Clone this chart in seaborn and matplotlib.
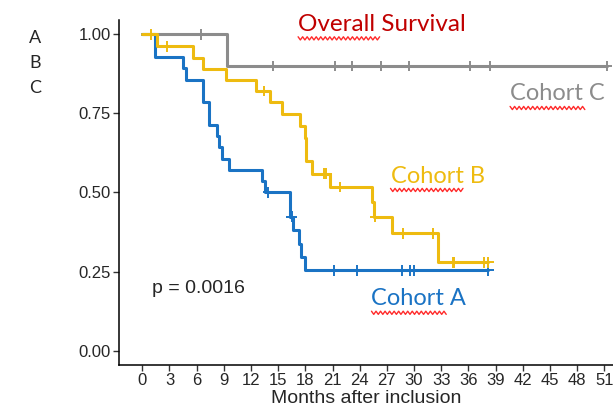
import numpy as np
import pandas as pd
import matplotlib
matplotlib.use("Agg")
import matplotlib.pyplot as plt
import seaborn as sns

# Kaplan-Meier steps: month of each step and survival after it
months_a = [0, 1.4, 4.5, 4.8, 6.7, 7.4, 8.3, 8.5, 8.8, 9.6, 13.2, 13.5, 16.3, 16.6, 17.3, 17.5, 18.0]
surv_a = [1.0, 0.929, 0.893, 0.857, 0.786, 0.714, 0.679, 0.643, 0.607, 0.571, 0.536, 0.500,
          0.423, 0.381, 0.338, 0.296, 0.254]
censor_a = [13.9, 16.5, 21.2, 23.7, 28.7, 29.5, 30.0, 38.2]

months_b = [0, 1.6, 5.6, 6.7, 9.2, 12.6, 14.1, 15.4, 17.4, 18.0, 18.05, 18.1, 18.7, 20.7,
            25.4, 25.6, 27.6, 32.6]
surv_b = [1.0, 0.962, 0.925, 0.889, 0.855, 0.821, 0.786, 0.748, 0.710, 0.673, 0.635, 0.598,
          0.560, 0.517, 0.470, 0.423, 0.371, 0.280]
censor_b = [1.0, 2.7, 13.4, 20.1, 20.3, 21.8, 25.7, 28.8, 32.1, 34.3, 34.45, 37.7, 38.2]

months_c = [0, 9.4]
surv_c = [1.0, 0.9]
censor_c = [6.5, 14.4, 21.3, 23.2, 26.3, 29.4, 36.2, 38.4, 51.3]

cohorts = ["Cohort A", "Cohort B", "Cohort C"]
colors = {"Cohort A": "#1a73c4", "Cohort B": "#eebb10", "Cohort C": "#8c8c8c"}
p_text = "p = 0.0016"

curves = {"Cohort A": (months_a, surv_a, censor_a),
          "Cohort B": (months_b, surv_b, censor_b),
          "Cohort C": (months_c, surv_c, censor_c)}

line_rows = []
cens_rows = []
for name, (m, s, c) in curves.items():
    for t, v in zip(m, s):
        line_rows.append((name, t, v))
    line_rows.append((name, max(c), s[-1]))  # follow-up ends at last censoring
    for t in c:
        idx = np.searchsorted(m, t, side="right") - 1
        cens_rows.append((name, t, s[idx]))
lines = pd.DataFrame(line_rows, columns=["cohort", "month", "surv"])
cens = pd.DataFrame(cens_rows, columns=["cohort", "month", "surv"])

sns.set_style("ticks")
plt.rcParams["font.family"] = ["Liberation Sans", "DejaVu Sans"]

fig = plt.figure(figsize=(6.13, 4.11), dpi=100)
ax = fig.add_axes([119 / 613, 46 / 411, 494 / 613, 345 / 411])

order = ["Cohort C", "Cohort A", "Cohort B"]
sns.lineplot(data=lines, x="month", y="surv", hue="cohort", hue_order=order, palette=colors,
             estimator=None, drawstyle="steps-post", linewidth=2.2, legend=False, ax=ax)
sns.scatterplot(data=cens, x="month", y="surv", hue="cohort", hue_order=order, palette=colors,
                marker="+", s=60, linewidth=1.4, legend=False, ax=ax, zorder=3)

ax.set_xlim(-2.57, 51.96)
ax.set_ylim(-0.045, 1.045)
ax.set_xticks(np.arange(0, 52, 3))
ax.set_yticks([0, 0.25, 0.5, 0.75, 1.0])
ax.set_yticklabels(["0.00", "0.25", "0.50", "0.75", "1.00"])
ax.tick_params(labelsize=12, length=4, width=1, color="#333333", pad=2)
ax.set_xlabel("Months after inclusion", fontsize=14, labelpad=1)
ax.set_ylabel("")
sns.despine(ax=ax)
for sp in ["left", "bottom"]:
    ax.spines[sp].set_linewidth(1.1)
    ax.spines[sp].set_color("black")

calib = ["Lato", "DejaVu Sans"]
ax.text(1.07, 0.196, p_text, fontsize=14, va="center", ha="left")
ax.text(17.2, 1.03, "Overall Survival", color="#c00000", fontsize=17.5, family=calib,
        va="center", ha="left")
label_pos = {"Cohort C": (40.6, 0.814), "Cohort B": (27.4, 0.552), "Cohort A": (25.3, 0.164)}
for name, (x, y) in label_pos.items():
    ax.text(x, y, name, color=colors[name], fontsize=17, family=calib, va="center", ha="left")

# red spell-check squiggles under words, as in the source slide
def squiggle(x0, x1, y):
    xs = np.arange(x0, x1, 0.25)
    ys = y + np.where(np.arange(len(xs)) % 2 == 0, 0.005, -0.005)
    ax.plot(xs, ys, color="#ff2a2a", lw=1.0, clip_on=False)

squiggle(17.2, 26.4, 0.987)
squiggle(40.6, 48.9, 0.767)
squiggle(27.4, 35.6, 0.508)
squiggle(25.3, 33.6, 0.120)

for i, letter in enumerate(["A", "B", "C"]):
    fig.text(35 / 613, 1 - (38 + 25 * i) / 411, letter, fontsize=13, family=calib,
             ha="center", va="center")

fig.savefig("out.png", dpi=100)
